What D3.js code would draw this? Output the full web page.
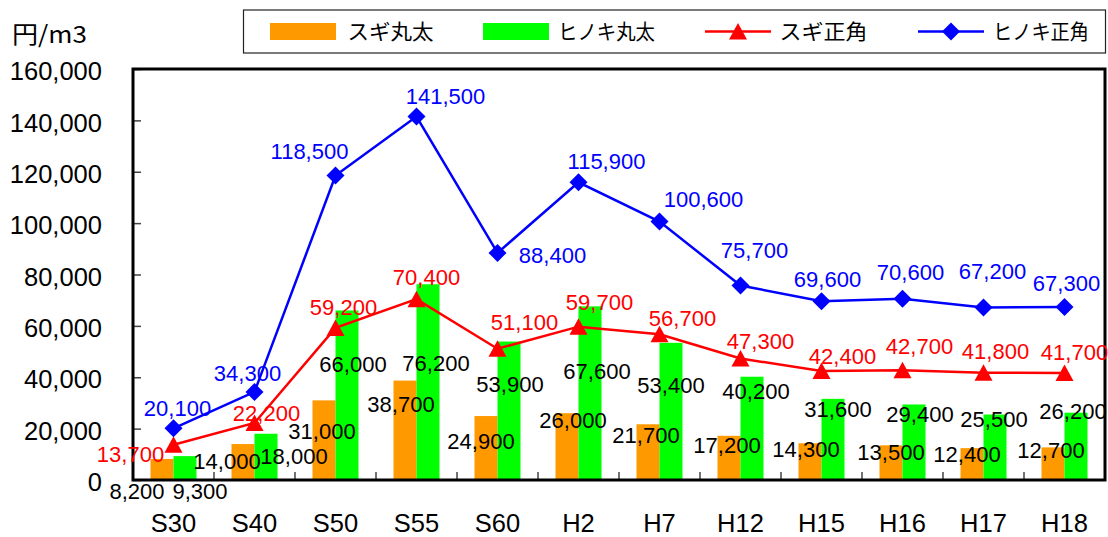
<!DOCTYPE html>
<html>
<head>
<meta charset="utf-8">
<script src="https://cdnjs.cloudflare.com/ajax/libs/d3/7.8.5/d3.min.js"></script>
<style>
  body { margin: 0; background: #fff; }
  svg { display: block; }
</style>
</head>
<body>
<script>
// data (円/m3)
var categories = ["S30", "S40", "S50", "S55", "S60", "H2", "H7", "H12", "H15", "H16", "H17", "H18"];
var sugi_log = [8200, 14000, 31000, 38700, 24900, 26000, 21700, 17200, 14300, 13500, 12400, 12700];
var hinoki_log = [9300, 18000, 66000, 76200, 53900, 67600, 53400, 40200, 31600, 29400, 25500, 26200];
var sugi_square = [13700, 22200, 59200, 70400, 51100, 59700, 56700, 47300, 42400, 42700, 41800, 41700];
var hinoki_square = [20100, 34300, 118500, 141500, 88400, 115900, 100600, 75700, 69600, 70600, 67200, 67300];
var y_ticks = [0, 20000, 40000, 60000, 80000, 100000, 120000, 140000, 160000];
var series_names = ["スギ丸太", "ヒノキ丸太", "スギ正角", "ヒノキ正角"];
var unit_label = "円/m3";

// label nudges [dx, dy] from each mark, as the labels were moved by hand in the original
var sugi_log_nudge = [[-25, 32], [-16, 17], [-2, 31], [-4, 23], [-5, 25], [6, 7], [-2, 11], [-2, 9], [-4, 6], [0, 7], [-5, 6], [-2, 3]];
var hinoki_log_nudge = [[15, 35], [28, 22], [6, 54], [8, 79], [1, 43], [7, 65], [0, 42], [4, 14], [5, 10], [6, 10], [-1, 5], [-3, -2]];
var sugi_square_nudge = [[-43, 9], [12, -10], [8, -21], [10, -22], [27, -27], [21, -25], [23, -16], [20, -17], [21, -15], [17, -24], [12, -22], [10, -21]];
var hinoki_square_nudge = [[4, -20], [-7, -19], [-26, -25], [29, -20], [55, 2], [28, -21], [44, -23], [14, -35], [6, -22], [8, -27], [9, -36], [2, -24]];

var colors = {sugi_log: "#ff9900", hinoki_log: "#00ff00", sugi_square: "#ff0000", hinoki_square: "#0000ff"};

var plot = {left: 133, top: 69, right: 1105, bottom: 480};
var bar_width = 23;
var label_font = "'Liberation Sans', Arial, sans-serif";
var fmt = d3.format(",");

var svg = d3.select("body").append("svg")
    .attr("width", 1108)
    .attr("height", 537);

var x_scale = d3.scaleBand()
    .domain(categories)
    .range([plot.left, plot.right])
    .padding(0);

var y_scale = d3.scaleLinear()
    .domain([0, 160000])
    .range([plot.bottom, plot.top]);

function cx(d) { return x_scale(d) + x_scale.bandwidth() / 2; }

// bars
var bars = svg.append("g").attr("id", "bars");
bars.selectAll(".sugi-log")
  .data(sugi_log)
  .enter().append("rect")
  .attr("x", function(d, i) { return cx(categories[i]) - bar_width; })
  .attr("y", function(d) { return y_scale(d); })
  .attr("width", bar_width)
  .attr("height", function(d) { return plot.bottom - y_scale(d); })
  .attr("fill", colors.sugi_log);
bars.selectAll(".hinoki-log")
  .data(hinoki_log)
  .enter().append("rect")
  .attr("x", function(d, i) { return cx(categories[i]); })
  .attr("y", function(d) { return y_scale(d); })
  .attr("width", bar_width)
  .attr("height", function(d) { return plot.bottom - y_scale(d); })
  .attr("fill", colors.hinoki_log);

// y axis with inward ticks
var y_axis = svg.append("g")
    .attr("transform", "translate(" + plot.left + ",0)")
    .call(d3.axisLeft(y_scale).tickValues(y_ticks).tickSize(-8).tickPadding(31).tickFormat(fmt));
y_axis.select(".domain").remove();
y_axis.selectAll("line").attr("stroke", "#444").attr("stroke-width", 1.5);
y_axis.selectAll("text")
    .attr("font-family", label_font)
    .attr("font-size", 25.5)
    .attr("fill", "#000")
    .attr("dy", "0.42em");

// x axis labels
var x_axis = svg.append("g")
    .attr("transform", "translate(0," + plot.bottom + ")")
    .call(d3.axisBottom(x_scale).tickSize(0).tickPadding(34));
x_axis.select(".domain").remove();
x_axis.selectAll("text")
    .attr("font-family", label_font)
    .attr("font-size", 25.5)
    .attr("fill", "#000");

// small upward ticks between categories
var boundaries = categories.slice(1);
svg.append("g").selectAll("line")
  .data(boundaries)
  .enter().append("line")
  .attr("x1", function(d) { return x_scale(d); })
  .attr("x2", function(d) { return x_scale(d); })
  .attr("y1", plot.bottom)
  .attr("y2", plot.bottom - 8)
  .attr("stroke", "#444")
  .attr("stroke-width", 1.5);

// lines
var triangle = "M0,-8.5L9,8L-9,8Z";
var diamond = "M0,-9L9,0L0,9L-9,0Z";

function draw_line(values, color, shape) {
  var line = d3.line()
    .x(function(d, i) { return cx(categories[i]); })
    .y(function(d) { return y_scale(d); });
  svg.append("path")
    .datum(values)
    .attr("d", line)
    .attr("fill", "none")
    .attr("stroke", color)
    .attr("stroke-width", 2.5);
  svg.append("g").selectAll("path")
    .data(values)
    .enter().append("path")
    .attr("d", shape)
    .attr("transform", function(d, i) { return "translate(" + cx(categories[i]) + "," + y_scale(d) + ")"; })
    .attr("fill", color);
}
draw_line(sugi_square, colors.sugi_square, triangle);
draw_line(hinoki_square, colors.hinoki_square, diamond);

// plot frame
svg.append("rect")
    .attr("x", plot.left)
    .attr("y", plot.top)
    .attr("width", plot.right - plot.left)
    .attr("height", plot.bottom - plot.top)
    .attr("fill", "none")
    .attr("stroke", "#000")
    .attr("stroke-width", 3);

// data labels
function draw_labels(values, nudge, base_x, color) {
  svg.append("g").selectAll("text")
    .data(values)
    .enter().append("text")
    .attr("x", function(d, i) { return base_x(i) + nudge[i][0]; })
    .attr("y", function(d, i) { return y_scale(d) + nudge[i][1]; })
    .attr("dy", "0.36em")
    .attr("text-anchor", "middle")
    .attr("font-family", label_font)
    .attr("font-size", 22)
    .attr("fill", color)
    .text(function(d) { return fmt(d); });
}
draw_labels(sugi_log, sugi_log_nudge, function(i) { return cx(categories[i]) - bar_width / 2; }, "#000");
draw_labels(hinoki_log, hinoki_log_nudge, function(i) { return cx(categories[i]) + bar_width / 2; }, "#000");
draw_labels(sugi_square, sugi_square_nudge, function(i) { return cx(categories[i]); }, colors.sugi_square);
draw_labels(hinoki_square, hinoki_square_nudge, function(i) { return cx(categories[i]); }, colors.hinoki_square);

// unit
svg.append("text")
    .attr("x", 12)
    .attr("y", 43)
    .attr("font-family", "'Noto Sans CJK JP', sans-serif")
    .attr("font-size", 24)
    .attr("textLength", 75)
    .attr("lengthAdjust", "spacingAndGlyphs")
    .text(unit_label);

// legend
var legend = svg.append("g").attr("id", "legend");
legend.append("rect")
    .attr("x", 243.5)
    .attr("y", 10)
    .attr("width", 862)
    .attr("height", 43)
    .attr("fill", "#fff")
    .attr("stroke", "#222")
    .attr("stroke-width", 1.2);

var legend_items = [
  {name: series_names[0], kind: "bar", color: colors.sugi_log, x: 270, text_x: 347.5, text_w: 86},
  {name: series_names[1], kind: "bar", color: colors.hinoki_log, x: 483, text_x: 558, text_w: 97},
  {name: series_names[2], kind: "line", color: colors.sugi_square, shape: triangle, x: 705, text_x: 779.5, text_w: 88},
  {name: series_names[3], kind: "line", color: colors.hinoki_square, shape: diamond, x: 918, text_x: 993, text_w: 96}
];
var legend_mid = 31.5;
legend_items.forEach(function(item) {
  if (item.kind == "bar") {
    legend.append("rect")
      .attr("x", item.x)
      .attr("y", legend_mid - 8.5)
      .attr("width", 66)
      .attr("height", 17)
      .attr("fill", item.color);
  } else {
    legend.append("line")
      .attr("x1", item.x)
      .attr("x2", item.x + 66)
      .attr("y1", legend_mid)
      .attr("y2", legend_mid)
      .attr("stroke", item.color)
      .attr("stroke-width", 2.5);
    legend.append("path")
      .attr("d", item.shape)
      .attr("transform", "translate(" + (item.x + 33) + "," + legend_mid + ")")
      .attr("fill", item.color);
  }
  legend.append("text")
    .attr("x", item.text_x)
    .attr("y", legend_mid)
    .attr("dy", "0.36em")
    .attr("font-family", "'Noto Sans CJK JP', sans-serif")
    .attr("font-size", 21)
    .attr("textLength", item.text_w)
    .attr("lengthAdjust", "spacingAndGlyphs")
    .text(item.name);
});
</script>
</body>
</html>
